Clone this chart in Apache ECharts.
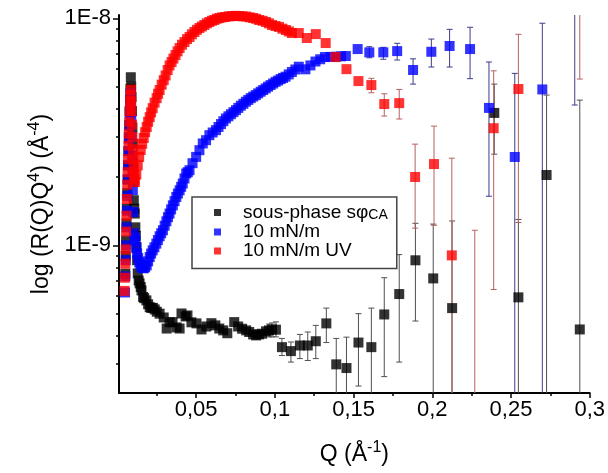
<!DOCTYPE html>
<html><head><meta charset="utf-8">
<script src="https://cdn.jsdelivr.net/npm/echarts@6/dist/echarts.min.js"></script>
<style>html,body{margin:0;padding:0;background:#fff}#c{width:608px;height:473px}</style>
</head><body><div id="c"></div>
<script>
const FONT = '"Liberation Sans", Arial, sans-serif';
const xTicks = [0.05, 0.1, 0.15, 0.2, 0.25, 0.3];
const xMinorTicks = [0.025, 0.075, 0.125, 0.175, 0.225, 0.275];
const yTicks = [1e-9, 1e-8];
const yMinorTicks = [3e-10,4e-10,5e-10,6e-10,7e-10,8e-10,9e-10,2e-9,3e-9,4e-9,5e-9,6e-9,7e-9,8e-9,9e-9];
const seriesNames = ['sous-phase sφCA', '10 mN/m', '10 mN/m UV'];

// sous-phase (black)
const blackQ = [0.0050,0.00525,0.0055,0.00575,0.0060,0.00625,0.0065,0.00675,0.0070,0.00725,0.0075,0.00775,0.0080,0.00825,0.0085,0.00875,0.0090,0.00925,0.0095,0.00975,
  0.0100,0.0102,0.0104,0.0107,0.0110,0.0114,0.0117,0.0121,0.0125,0.0129,0.0135,0.0141,0.0148,0.0153,0.0163,0.0170,0.0184,0.0195,0.0205,0.0215,
  0.0226,0.0237,0.0250,0.0268,0.0294,0.0313,0.0331,0.0350,0.0376,0.0395,0.0407,0.0433,0.0445,0.0470,0.0502,0.0534,0.0565,0.0597,0.0622,0.0647,
  0.0672,0.0698,0.0742,0.0767,0.0792,0.0818,0.0837,0.0862,0.0881,0.0900,0.0919,0.0944,0.0963,0.0982,0.1007,0.1045,0.1102,0.1159,0.1209,0.1260,
  0.1327,0.1390,0.1455,0.1531,0.1613,0.1695,0.1790,0.1893,0.2006,0.2126,0.2394,0.2547,0.2726,0.2937];
const blackR = [7.5e-10,9.0e-10,1.05e-9,1.25e-9,1.45e-9,1.7e-9,1.95e-9,2.25e-9,2.6e-9,3.0e-9,3.4e-9,3.9e-9,4.4e-9,4.9e-9,5.5e-9,5.0e-9,4.5e-9,3.9e-9,3.3e-9,2.8e-9,
  2.3e-9,1.9e-9,1.58e-9,1.45e-9,1.38e-9,1.2e-9,1.1e-9,9.83e-10,8.6e-10,7.52e-10,7.0e-10,6.8e-10,6.55e-10,6.33e-10,5.92e-10,5.85e-10,5.72e-10,5.5e-10,5.34e-10,5.3e-10,
  5.3e-10,5.22e-10,5.1e-10,5.00e-10,4.81e-10,4.30e-10,4.58e-10,4.59e-10,4.35e-10,4.30e-10,5.01e-10,4.86e-10,4.91e-10,4.58e-10,4.53e-10,4.26e-10,4.39e-10,4.54e-10,4.44e-10,4.30e-10,
  4.22e-10,4.10e-10,4.59e-10,4.39e-10,4.29e-10,4.22e-10,4.15e-10,4.05e-10,4.01e-10,4.05e-10,4.08e-10,4.18e-10,4.22e-10,4.26e-10,4.25e-10,3.56e-10,3.42e-10,3.62e-10,3.62e-10,3.78e-10,
  4.53e-10,2.99e-10,2.88e-10,3.73e-10,3.56e-10,4.96e-10,6.10e-10,8.59e-10,7.15e-10,5.29e-10,3.83e-9,5.90e-10,2.04e-9,4.26e-10];
const blackErrQ = [0.0963,0.0982,0.1007,0.1045,0.1102,0.1159,0.1209,0.1260,0.1327,0.1390,0.1455,0.1531,0.1613,0.1695,0.1790,0.1893,0.2006,0.2126,0.2394,0.2547,0.2726,0.2937];
const blackErrLow = [3.95e-10,3.95e-10,3.95e-10,3.27e-10,3.06e-10,3.17e-10,3.11e-10,3.17e-10,3.73e-10,1e-11,1e-11,2.40e-10,1e-11,2.64e-10,3.06e-10,4.64e-10,1e-11,1e-11,2.52e-9,1e-11,1e-11,1e-11];
const blackErrHigh = [4.5e-10,4.55e-10,4.6e-10,3.89e-10,3.75e-10,4.05e-10,4.15e-10,4.44e-10,5.29e-10,3.89e-10,3.94e-10,5.0e-10,5.29e-10,7.2e-10,9.1e-10,1.25e-9,1.24e-9,1.28e-9,5.13e-9,1.3e-9,4.59e-9,4.36e-9];

// 10 mN/m (blue)
const blueQ = [0.0048,0.00505,0.0053,0.00555,0.0058,0.00605,0.0063,0.00655,0.0068,0.00705,0.0073,0.00755,0.0078,0.00805,0.0083,0.00855,0.0088,0.00905,0.0093,0.00955,
  0.0098,0.0101,0.0104,0.0110,0.0115,0.0120,0.0125,0.0132,0.0139,0.0146,0.0153,0.0160,0.0167,0.0176,0.0186,0.0195,0.0205,0.0214,0.0224,0.0235,
  0.0247,0.0257,0.0268,0.0278,0.0289,0.0300,0.0311,0.0321,0.0331,0.0341,0.0352,0.0363,0.0374,0.0384,0.0395,0.0405,0.0415,0.0426,0.0437,0.0447,
  0.0458,0.0477,0.0500,0.0521,0.0542,0.0563,0.0584,0.0605,0.0626,0.0642,0.0658,0.0673,0.0689,0.0705,0.0721,0.0737,0.0753,0.0768,0.0784,0.0800,
  0.0816,0.0831,0.0847,0.0863,0.0879,0.0894,0.0910,0.0926,0.0942,0.0957,0.0973,0.0989,0.1005,0.1021,0.1037,0.1052,0.1068,0.1088,0.1108,0.1130,
  0.1152,0.1194,0.1226,0.1258,0.1288,0.1318,0.1353,0.1388,0.1420,0.1451,0.1526,0.1600,0.1689,0.1777,0.1878,0.1994,0.2110,0.2240,0.2360,0.2524,
  0.2699,0.2905];
const blueR = [6.2e-10,7.3e-10,8.6e-10,1.0e-9,1.2e-9,1.42e-9,1.65e-9,1.95e-9,2.25e-9,2.6e-9,2.95e-9,3.35e-9,3.8e-9,4.25e-9,4.7e-9,4.2e-9,3.6e-9,3.0e-9,2.5e-9,2.1e-9,
  1.75e-9,1.4e-9,1.13e-9,1.08e-9,1.05e-9,9.7e-10,9.22e-10,8.8e-10,8.41e-10,8.2e-10,8.02e-10,7.95e-10,7.92e-10,8.0e-10,8.16e-10,8.5e-10,8.88e-10,9.2e-10,9.50e-10,9.8e-10,
  1.017e-9,1.055e-9,1.096e-9,1.13e-9,1.165e-9,1.22e-9,1.276e-9,1.33e-9,1.38e-9,1.44e-9,1.50e-9,1.565e-9,1.633e-9,1.69e-9,1.748e-9,1.81e-9,1.872e-9,1.97e-9,2.072e-9,2.1e-9,
  2.142e-9,2.30e-9,2.452e-9,2.625e-9,2.81e-9,2.905e-9,3.056e-9,3.14e-9,3.216e-9,3.32e-9,3.42e-9,3.52e-9,3.62e-9,3.70e-9,3.78e-9,3.86e-9,3.94e-9,4.03e-9,4.12e-9,4.20e-9,
  4.29e-9,4.37e-9,4.45e-9,4.52e-9,4.59e-9,4.67e-9,4.75e-9,4.83e-9,4.91e-9,5.0e-9,5.08e-9,5.16e-9,5.25e-9,5.32e-9,5.40e-9,5.46e-9,5.53e-9,5.66e-9,5.80e-9,5.95e-9,
  6.12e-9,5.96e-9,6.2e-9,6.45e-9,6.6e-9,6.75e-9,6.76e-9,6.77e-9,6.8e-9,6.82e-9,7.32e-9,7.08e-9,7.08e-9,7.17e-9,5.92e-9,7.12e-9,7.55e-9,7.32e-9,4.03e-9,2.45e-9,
  4.86e-9,1.6e-8];
const blueErrQ = [0.1600,0.1689,0.1777,0.1878,0.1994,0.2110,0.2240,0.2360,0.2524,0.2699,0.2905];
const blueErrLow = [6.7e-9,6.60e-9,6.55e-9,5.13e-9,6.10e-9,6.10e-9,5.42e-9,1.645e-9,1e-11,1e-11,4.15e-9];
const blueErrHigh = [7.5e-9,7.45e-9,7.76e-9,6.63e-9,8.10e-9,8.94e-9,9.13e-9,6.42e-9,5.72e-9,9.51e-9,3e-8];

// 10 mN/m UV (red)
const redQ = [0.0045,0.00475,0.0050,0.00525,0.0055,0.00575,0.0060,0.00625,0.0065,0.00675,0.0070,0.00725,0.0075,0.00775,0.0080,0.00825,0.0085,0.0088,0.0090,0.0093,
  0.0095,0.0098,0.0100,0.0103,0.0105,0.0108,0.0111,0.0120,0.0129,0.0138,0.0148,0.0157,0.0167,0.0176,0.0186,0.0195,0.0205,0.0214,0.0224,0.0236,
  0.0249,0.0258,0.0268,0.0281,0.0294,0.0306,0.0319,0.0331,0.0344,0.0356,0.0369,0.0382,0.0395,0.0410,0.0426,0.0442,0.0458,0.0473,0.0489,0.0505,
  0.0521,0.0536,0.0552,0.0568,0.0584,0.0600,0.0616,0.0631,0.0647,0.0666,0.0685,0.0707,0.0729,0.0751,0.0773,0.0795,0.0818,0.0840,0.0862,0.0881,
  0.0900,0.0922,0.0944,0.0963,0.0982,0.1004,0.1026,0.1048,0.1070,0.1089,0.1108,0.1152,0.1203,0.1260,0.1323,0.1386,0.1455,0.1531,0.1613,0.1695,
  0.1790,0.1891,0.2011,0.2124,0.2270,0.2390,0.2547,0.2937];
const redR = [6.3e-10,7.2e-10,8.3e-10,9.6e-10,1.15e-9,1.35e-9,1.6e-9,1.85e-9,2.1e-9,2.4e-9,2.75e-9,3.1e-9,3.5e-9,3.9e-9,4.3e-9,4.6e-9,4.85e-9,4.3e-9,3.9e-9,3.4e-9,
  3.0e-9,2.65e-9,2.4e-9,2.2e-9,2.05e-9,1.95e-9,1.90e-9,2.05e-9,2.25e-9,2.45e-9,2.63e-9,2.80e-9,2.97e-9,3.15e-9,3.32e-9,3.5e-9,3.67e-9,3.85e-9,4.02e-9,4.25e-9,
  4.45e-9,4.65e-9,4.83e-9,5.1e-9,5.34e-9,5.6e-9,5.92e-9,6.2e-9,6.42e-9,6.65e-9,6.89e-9,7.15e-9,7.40e-9,7.65e-9,7.86e-9,8.1e-9,8.27e-9,8.5e-9,8.70e-9,8.9e-9,
  9.06e-9,9.2e-9,9.34e-9,9.5e-9,9.63e-9,9.75e-9,9.83e-9,9.95e-9,1.003e-8,1.01e-8,1.013e-8,1.02e-8,1.023e-8,1.025e-8,1.023e-8,1.02e-8,1.018e-8,1.01e-8,1.003e-8,9.95e-9,
  9.83e-9,9.75e-9,9.63e-9,9.5e-9,9.34e-9,9.25e-9,9.16e-9,9.0e-9,8.88e-9,8.75e-9,8.61e-9,8.61e-9,8.19e-9,8.52e-9,7.78e-9,6.75e-9,5.97e-9,5.29e-9,5.08e-9,4.19e-9,
  4.23e-9,2.0e-9,2.28e-9,9.03e-10,2.0e-10,3.28e-9,4.88e-9,1.6e-8];
const redErrQ = [0.1613,0.1695,0.1790,0.1891,0.2011,0.2124,0.2270,0.2390,0.2547,0.2937];
const redErrLow = [4.70e-9,3.71e-9,3.60e-9,1.19e-9,1.225e-9,1e-11,1e-11,6.39e-10,1.26e-9,5.40e-9];
const redErrHigh = [5.44e-9,4.65e-9,4.86e-9,2.79e-9,3.35e-9,2.42e-9,1.165e-9,5.87e-9,8.50e-9,3e-8];

const colors = ['#000000', '#0000ff', '#ff0000'];
const barColors = ['#505050', '#3c3c8c', '#b86060'];

function renderErr(params, api) {
  const x = api.value(0), lo = api.value(1), hi = api.value(2);
  const top = api.coord([x, hi]), bot = api.coord([x, lo]);
  const c = api.visual('color');
  const w = 3;
  const st = {stroke: c, lineWidth: 1, fill: null};
  return {type: 'group', children: [
    {type: 'line', shape: {x1: top[0], y1: top[1], x2: bot[0], y2: bot[1]}, style: st},
    {type: 'line', shape: {x1: top[0] - w, y1: top[1], x2: top[0] + w, y2: top[1]}, style: st},
    {type: 'line', shape: {x1: bot[0] - w, y1: bot[1], x2: bot[0] + w, y2: bot[1]}, style: st}
  ]};
}
function errSeries(q, lo, hi, color) {
  return {type: 'custom', renderItem: renderErr, data: q.map((x, i) => [x, lo[i], hi[i]]),
    encode: {x: 0, y: [1, 2]}, itemStyle: {color: color}, clip: true, silent: true, z: 1, xAxisIndex: 0, yAxisIndex: 0};
}
function scatterSeries(name, q, r, color, z) {
  return {type: 'scatter', name: name, data: q.map((x, i) => [x, r[i]]), symbol: 'rect', symbolSize: 10,
    itemStyle: {color: color}, clip: true, z: z, xAxisIndex: 0, yAxisIndex: 0, emphasis: {disabled: true}};
}

const chart = echarts.init(document.getElementById('c'), null, {renderer: 'canvas'});
chart.setOption({
  animation: false,
  backgroundColor: '#fff',
  textStyle: {fontFamily: FONT},
  grid: {left: 119, right: 15, top: 15, bottom: 80, containLabel: false},
  legend: {
    data: seriesNames, orient: 'vertical', left: 192, top: 197, icon: 'rect', itemWidth: 7, itemHeight: 7, itemGap: 0,
    padding: [6, 9, 8, 22], backgroundColor: '#fff', borderColor: '#444', borderWidth: 1.5, borderRadius: 0,
    selectedMode: false,
    formatter: function (name) {
      if (name === seriesNames[0]) return '{gap|}{t|sous-phase sφ}{sub|CA}';
      return '{gap|}{t|' + name + '}';
    },
    textStyle: {color: '#000', fontFamily: FONT, rich: {
      gap: {width: 17},
      t: {fontSize: 19, lineHeight: 20, fontFamily: FONT, color: '#000'},
      sub: {fontSize: 14, lineHeight: 13, verticalAlign: 'bottom', fontFamily: FONT, color: '#000'}
    }}
  },
  xAxis: [{
    type: 'value', min: 0.001, max: 0.3, position: 'bottom',
    axisLine: {show: true, onZero: false, lineStyle: {color: '#000', width: 2}},
    axisTick: {show: true, customValues: xTicks, length: 5, lineStyle: {color: '#000', width: 1.5}},
    axisLabel: {customValues: xTicks, color: '#000', fontSize: 22, fontFamily: FONT, margin: 6,
      formatter: v => String(+(+v).toFixed(3)).replace('.', ',')},
    splitLine: {show: false},
    name: '{t|Q (Å}{sup|-1}{t|)}', nameLocation: 'middle', nameGap: 47,
    nameTextStyle: {rich: {
      t: {fontSize: 23, lineHeight: 29, fontFamily: FONT, color: '#000'},
      sup: {fontSize: 16, lineHeight: 16, verticalAlign: 'top', fontFamily: FONT, color: '#000'}
    }}
  }, {
    type: 'value', min: 0.001, max: 0.3, position: 'bottom',
    axisLine: {show: false, onZero: false},
    axisTick: {show: true, customValues: xMinorTicks, length: 3, lineStyle: {color: '#000', width: 1.5}},
    axisLabel: {show: false}, splitLine: {show: false}
  }],
  yAxis: [{
    type: 'log', logBase: 10, min: 2.236e-10, max: 1.034e-8, position: 'left',
    axisLine: {show: true, onZero: false, lineStyle: {color: '#000', width: 2}},
    axisTick: {show: true, customValues: yTicks, length: 6, lineStyle: {color: '#000', width: 1.5}},
    axisLabel: {customValues: yTicks, color: '#000', fontSize: 22, fontFamily: FONT, margin: 8,
      formatter: v => '1E' + Math.round(Math.log10(v))},
    splitLine: {show: false},
    name: '{t|log (R(Q)Q}{sup|4}{t|) (Å}{sup|-4}{t|)}', nameLocation: 'middle', nameGap: 63, nameRotate: 90,
    nameTextStyle: {rich: {
      t: {fontSize: 23, lineHeight: 29, fontFamily: FONT, color: '#000'},
      sup: {fontSize: 16, lineHeight: 16, verticalAlign: 'top', fontFamily: FONT, color: '#000'}
    }}
  }, {
    type: 'log', logBase: 10, min: 2.236e-10, max: 1.034e-8, position: 'left',
    axisLine: {show: false, onZero: false},
    axisTick: {show: true, customValues: yMinorTicks, length: 3, lineStyle: {color: '#000', width: 1.5}},
    axisLabel: {show: false}, splitLine: {show: false}
  }],
  series: [
    errSeries(blackErrQ, blackErrLow, blackErrHigh, barColors[0]),
    errSeries(blueErrQ, blueErrLow, blueErrHigh, barColors[1]),
    errSeries(redErrQ, redErrLow, redErrHigh, barColors[2]),
    scatterSeries(seriesNames[0], blackQ, blackR, colors[0], 2),
    scatterSeries(seriesNames[1], blueQ, blueR, colors[1], 3),
    scatterSeries(seriesNames[2], redQ, redR, colors[2], 4)
  ]
});
</script></body></html>
